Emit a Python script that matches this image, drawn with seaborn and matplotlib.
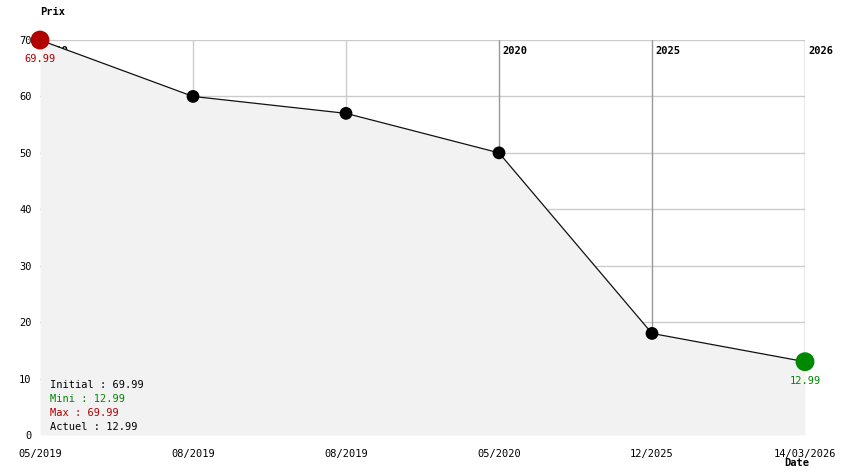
import pandas as pd
import matplotlib
matplotlib.use("Agg")
import matplotlib.pyplot as plt
import seaborn as sns

# données du graphique
dates = ["05/2019", "08/2019", "08/2019", "05/2020", "12/2025", "14/03/2026"]
prix = [69.99, 60, 57, 50, 18, 12.99]
annees = ["2019", "", "", "2020", "2025", "2026"]
legende = [("Initial : 69.99", "#000000"), ("Mini : 12.99", "#008800"),
           ("Max : 69.99", "#b00000"), ("Actuel : 12.99", "#000000")]

df = pd.DataFrame({"pos": range(len(dates)), "prix": prix, "date": dates})
df["type"] = "normal"
df.loc[df["prix"].idxmax(), "type"] = "max"
df.loc[df["prix"].idxmin(), "type"] = "min"

sns.set_theme(style="white")
plt.rcParams["font.family"] = ["DejaVu Sans Mono"]
plt.rcParams["font.size"] = 7
plt.rcParams["text.color"] = "black"
plt.rcParams["xtick.color"] = "black"
plt.rcParams["ytick.color"] = "black"

fig = plt.figure(figsize=(8.44, 4.74), dpi=100)
ax = fig.add_axes([40 / 844, 39 / 474, 765 / 844, 395 / 474])

# grille
for y in range(10, 80, 10):
    ax.axhline(y, color="#cccccc", lw=1, zorder=0)
for i, a in enumerate(annees):
    if i == 0:
        continue
    ax.axvline(i, color="#999999" if a else "#cccccc", lw=1, zorder=0)

# étiquettes des années (sous la zone remplie)
for i, a in enumerate(annees):
    if a:
        ax.annotate(a, xy=(i, 70), xytext=(3, -11), textcoords="offset pixels",
                    ha="left", va="center", fontsize=7.5, fontweight="bold", zorder=0.5)

ax.fill_between(df["pos"], df["prix"], color="#f2f2f2", zorder=1, lw=0)
sns.lineplot(data=df, x="pos", y="prix", color="#111111", lw=0.9, ax=ax, zorder=2)

pts = df[df["type"] == "normal"]
sns.scatterplot(data=pts, x="pos", y="prix", color="black", s=85, edgecolor="none",
                ax=ax, zorder=4, clip_on=False, legend=False)
ext = df[df["type"] != "normal"]
sns.scatterplot(data=ext, x="pos", y="prix", hue="type",
                palette={"max": "#b00000", "min": "#008800"}, s=185, edgecolor="none",
                ax=ax, zorder=5, clip_on=False, legend=False)

for _, r in ext.iterrows():
    c = "#b00000" if r["type"] == "max" else "#008800"
    ax.annotate(f"{r['prix']:.2f}", xy=(r["pos"], r["prix"]), xytext=(0, -19),
                textcoords="offset pixels", ha="center", va="center", color=c, fontsize=7.5)

for k, (t, c) in enumerate(legende):
    ax.annotate(t, xy=(0, 0), xycoords="axes fraction", xytext=(10, 50 - 14 * k),
                textcoords="offset pixels", ha="left", va="center", color=c, fontsize=7.5, zorder=6)

ax.set_xlim(0, len(dates) - 1)
ax.set_ylim(0, 70)
ax.set_xticks(df["pos"])
ax.set_xticklabels(dates)
ax.set_yticks(range(0, 80, 10))
ax.tick_params(axis="x", length=0, pad=10, labelsize=7.5)
ax.tick_params(axis="y", length=0, pad=6, labelsize=7.5)
ax.set_xlabel("")
ax.set_ylabel("")
sns.despine(ax=ax, left=True, bottom=True)

fig.text(40 / 844, 1 - 12 / 474, "Prix", ha="left", va="center", fontsize=7.5, fontweight="bold")
fig.text(797 / 844, 1 - 463 / 474, "Date", ha="center", va="center", fontsize=7.5, fontweight="bold")

fig.savefig("out.png", dpi=100)
